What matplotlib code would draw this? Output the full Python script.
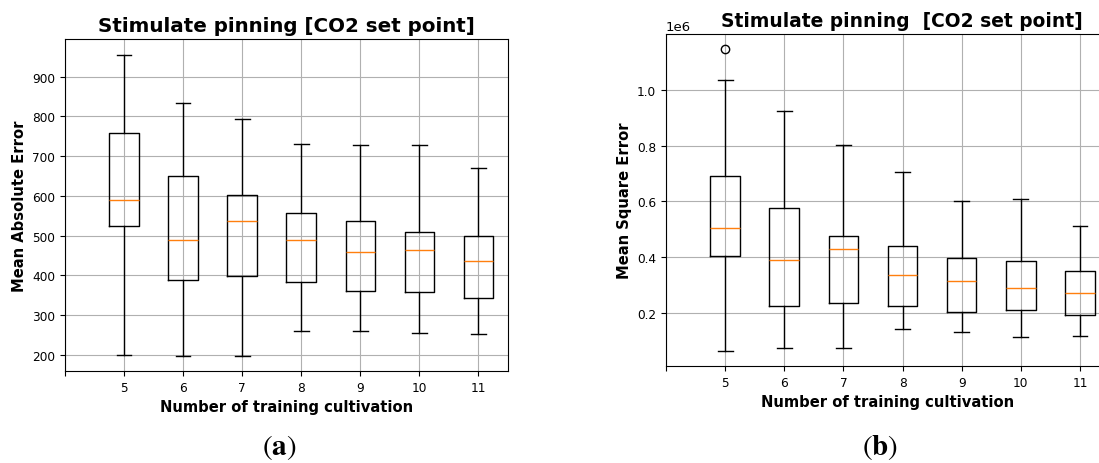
import matplotlib
matplotlib.use("Agg")
import matplotlib.pyplot as plt

# number of training cultivations (boxes), first tick left empty
cultivations = ['5', '6', '7', '8', '9', '10', '11']
tick_labels = [''] + cultivations

# Mean Absolute Error: whisker low, Q1, median, Q3, whisker high
mae_low = [200, 197, 197, 260, 260, 255, 253]
mae_q1 = [525, 388, 397, 383, 361, 358, 344]
mae_med = [590, 490, 536, 489, 458, 463, 436]
mae_q3 = [759, 651, 603, 558, 536, 510, 500]
mae_high = [955, 833, 793, 731, 727, 729, 669]
mae_fliers = [[], [], [], [], [], [], []]

# Mean Square Error (x1e6)
mse_low = [0.065, 0.077, 0.077, 0.142, 0.134, 0.115, 0.120]
mse_q1 = [0.406, 0.226, 0.236, 0.227, 0.205, 0.212, 0.193]
mse_med = [0.504, 0.390, 0.428, 0.338, 0.315, 0.291, 0.273]
mse_q3 = [0.691, 0.576, 0.475, 0.439, 0.398, 0.386, 0.352]
mse_high = [1.036, 0.922, 0.802, 0.704, 0.600, 0.607, 0.512]
mse_fliers = [[1.144], [], [], [], [], [], []]


def make_stats(low, q1, med, q3, high, fliers, scale=1.0):
    stats = []
    for i in range(len(low)):
        stats.append({
            'whislo': low[i] * scale, 'q1': q1[i] * scale, 'med': med[i] * scale,
            'q3': q3[i] * scale, 'whishi': high[i] * scale,
            'fliers': [f * scale for f in fliers[i]],
        })
    return stats


plt.rcParams['mathtext.fontset'] = 'stix'

fig = plt.figure(figsize=(10.99, 4.64), dpi=100)
ax1 = fig.add_axes([0.0591, 0.1983, 0.4031, 0.7155])
ax2 = fig.add_axes([0.6060, 0.2090, 0.4036, 0.7155])

positions = list(range(2, 2 + len(cultivations)))

ax1.bxp(make_stats(mae_low, mae_q1, mae_med, mae_q3, mae_high, mae_fliers),
        positions=positions, widths=0.5, manage_ticks=False)
ax2.bxp(make_stats(mse_low, mse_q1, mse_med, mse_q3, mse_high, mse_fliers, 1e6),
        positions=positions, widths=0.5, manage_ticks=False)

for ax in (ax1, ax2):
    ax.set_xticks(range(1, len(tick_labels) + 1))
    ax.set_xticklabels(tick_labels)
    ax.set_xlim(1, len(tick_labels) + 0.5)
    ax.grid(True)
    ax.set_axisbelow(True)
    ax.tick_params(labelsize=8.7)
    ax.set_xlabel('Number of training cultivation', fontsize=10.6, fontweight='bold')

ax1.set_ylim(159, 995)
ax1.set_yticks([200, 300, 400, 500, 600, 700, 800, 900])
ax1.set_ylabel('Mean Absolute Error', fontsize=10.6, fontweight='bold')
ax1.set_title('Stimulate pinning [CO2 set point]', fontsize=14.3, fontweight='bold')

ax2.set_ylim(0.011e6, 1.199e6)
ax2.set_ylabel('Mean Square Error', fontsize=10.6, fontweight='bold')
ax2.set_title('Stimulate pinning  [CO2 set point]', fontsize=13.4, fontweight='bold', x=0.532)
ax2.yaxis.get_offset_text().set_fontsize(9.5)

fig.text(0.254, 0.005, r'$\mathrm{(}\mathbf{a}\mathrm{)}$', ha='center', va='bottom', fontsize=21)
fig.text(0.801, 0.005, r'$\mathrm{(}\mathbf{b}\mathrm{)}$', ha='center', va='bottom', fontsize=21)

fig.savefig('out.png', dpi=100)
